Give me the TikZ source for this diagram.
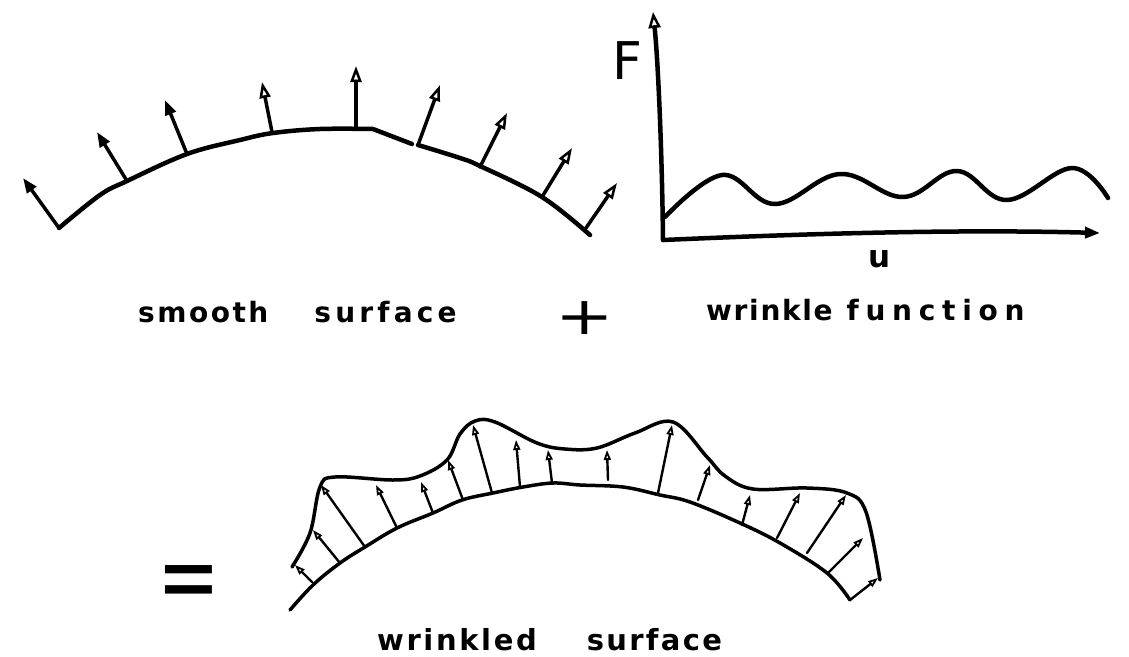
\documentclass[tikz,border=0pt]{standalone}
\usepackage{fontspec}
\setmainfont{DejaVu Sans}
\usetikzlibrary{arrows.meta}
\begin{document}
\begin{tikzpicture}[x=1pt,y=-1pt,line cap=round,line join=round,
  surf/.style={line width=4.5pt},
  wsurf/.style={line width=3.5pt},
  axisline/.style={line width=4.5pt},
  vecF/.style={line width=3.5pt,-{Triangle[length=15pt,width=11pt]}},
  vecO/.style={line width=3.5pt,-{Triangle[open,line width=2.5pt,length=16pt,width=11pt]}},
  vecW/.style={line width=2.4pt,-{Triangle[open,line width=1.8pt,length=10pt,width=7pt]}},
  lbl/.style={inner sep=0pt,anchor=base west,font=\fontsize{28}{32}\selectfont\bfseries},
  wlbl/.style={inner sep=0pt,anchor=base west,font=\fontsize{29}{34}\selectfont\bfseries}]
\useasboundingbox (0,0) rectangle (1129,656);

% smooth surface
\draw[surf] plot[smooth,tension=0.6] coordinates {(59,228) (100,195) (127,181) (187,154) (240,140) (273,133) (320,129) (373,129)} -- (412,144);
\draw[surf] plot[smooth,tension=0.6] coordinates {(418,145) (460,158) (480,166) (542,197) (590,235)};
\draw[vecF] (59,228) -- (23,178);
\draw[vecF] (127,181) -- (97,132);
\draw[vecF] (187,154) -- (165,100);
\draw[vecO] (272,132) -- (262,82);
\draw[vecO] (356,128) -- (356,66);
\draw[vecO] (418,145) -- (440,85);
\draw[vecO] (480,167) -- (507,113);
\draw[vecO] (542,197) -- (572,148);
\draw[vecO] (586,228) -- (617,183);

% wrinkle function graph
\draw[axisline,-{Triangle[open,line width=2.5pt,length=16pt,width=12pt]}] (663,240) .. controls (662,150) and (658,60) .. (653,12);
\draw[axisline,-{Triangle[length=15pt,width=11pt]}] (663,240) .. controls (800,234) and (950,229) .. (1100,233);
\draw[surf] plot[smooth,tension=0.65] coordinates {(665,217) (722,175) (775,204) (840,174) (903,197) (957,171) (1007,200) (1072,168) (1108,198)};
\node[inner sep=0pt,anchor=base west,font=\fontsize{52}{58}\selectfont] (F) at (612,79) {F};
\node[inner sep=0pt,anchor=base,font=\fontsize{31}{36}\selectfont\bfseries] (u) at (880,267) {u};

% labels
\node[lbl] (smooth) at (138,322) {{\addfontfeatures{LetterSpace=9}smooth}\hspace{46pt}{\addfontfeatures{LetterSpace=15}surface}};
\node[inner sep=0pt,font=\fontsize{70}{80}\selectfont,yscale=0.75,transform shape] (plus) at (585,318) {+};
\node[lbl] (wrinkle) at (706,320) {{\addfontfeatures{LetterSpace=6}wrinkle}\hspace{14pt}{\addfontfeatures{LetterSpace=24}function}};

% wrinkled surface
\draw[wsurf] plot[smooth,tension=0.6] coordinates {(290,610) (313,585) (340,563) (365,547) (397,528) (433,513) (462,500) (493,493) (523,487) (553,483) (580,485) (623,487) (660,495) (690,502) (740,523) (780,543) (827,573) (850,600)};
\draw[wsurf] plot[smooth,tension=0.6] coordinates {(292,567) (310,533) (320,487) (335,477) (393,480) (420,476) (447,460) (460,434) (475,421) (495,422) (537,443) (565,449) (597,448) (635,433) (673,422) (707,457) (725,476) (753,489) (807,488) (847,493) (866,512) (880,580)};
\draw[vecW] (312,582) -- (295,565);
\draw[vecW] (340,563) -- (313,530);
\draw[vecW] (365,547) -- (321,485);
\draw[vecW] (397,528) -- (376,485);
\draw[vecW] (433,513) -- (421,482);
\draw[vecW] (463,500) -- (448,460);
\draw[vecW] (492,493) -- (473,425);
\draw[vecW] (520,487) -- (516,440);
\draw[vecW] (552,483) -- (548,450);
\draw[vecW] (608,480) -- (607,450);
\draw[vecW] (658,493) -- (672,425);
\draw[vecW] (698,500) -- (710,465);
\draw[vecW] (742,525) -- (750,495);
\draw[vecW] (777,538) -- (800,493);
\draw[vecW] (807,553) -- (846,495);
\draw[vecW] (828,573) -- (863,538);
\draw[vecW] (850,600) -- (878,578);

\node[inner sep=0pt,font=\fontsize{75}{80}\selectfont,yscale=1.35,transform shape] (eq) at (189,589) {=};
\node[wlbl] (wrinkled) at (377,650) {{\addfontfeatures{LetterSpace=9}wrinkled}\hspace{50pt}{\addfontfeatures{LetterSpace=8}surface}};
\end{tikzpicture}
\end{document}
